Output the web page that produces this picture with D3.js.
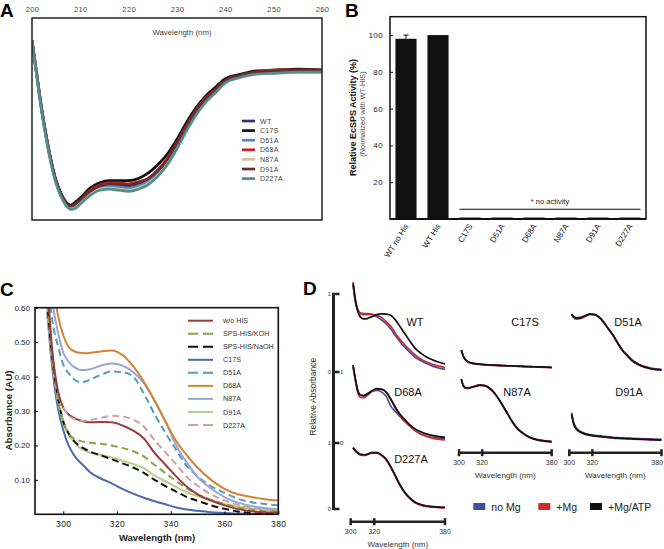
<!DOCTYPE html>
<html><head><meta charset="utf-8">
<script src="https://cdn.jsdelivr.net/npm/d3@7"></script>
<style>body{margin:0;background:#fff}svg{display:block}text{font-family:"Liberation Sans",Arial,sans-serif}</style>
</head><body><svg id="chart" width="664" height="549"></svg>
<script>
// ---------- Panel A: CD spectra ----------
const cdWavelengths = [200,201,202,203,204,205,206,207,208,209,210,212,214,216,218,220,222,224,226,228,230,232,234,236,238,240,243,246,250,255,260];
const cdWT   = [2.9,-0.4,-3.6,-6.3,-8.6,-10.4,-11.6,-12.4,-12.8,-12.6,-12.2,-11.4,-10.9,-10.7,-10.7,-10.8,-10.6,-10.2,-9.5,-8.4,-6.9,-5.2,-3.7,-2.6,-1.8,-0.9,-0.4,-0.1,0.0,0.1,0.1];
const cdC17S = [2.9,-0.3,-3.5,-6.2,-8.5,-10.3,-11.5,-12.3,-12.6,-12.3,-11.9,-11.0,-10.5,-10.3,-10.3,-10.3,-10.1,-9.6,-8.8,-7.8,-6.4,-4.8,-3.4,-2.3,-1.5,-0.7,-0.3,0.0,0.1,0.2,0.1];
const cdD51A = [2.9,-0.4,-3.7,-6.4,-8.7,-10.5,-11.7,-12.5,-12.9,-12.7,-12.3,-11.5,-11.0,-10.8,-10.9,-11.0,-10.8,-10.4,-9.7,-8.6,-7.1,-5.4,-3.9,-2.7,-1.9,-1.0,-0.5,-0.2,-0.1,0.0,0.0];
const cdD68A = [2.9,-0.4,-3.6,-6.3,-8.6,-10.4,-11.6,-12.4,-12.8,-12.5,-12.1,-11.2,-10.7,-10.5,-10.5,-10.6,-10.4,-10.1,-9.3,-8.2,-6.7,-5.1,-3.6,-2.5,-1.7,-0.9,-0.4,-0.1,0.1,0.1,0.1];
const cdN87A = [2.9,-0.5,-3.7,-6.4,-8.7,-10.5,-11.7,-12.5,-12.9,-12.8,-12.4,-11.6,-11.1,-11.0,-11.1,-11.2,-11.0,-10.6,-9.8,-8.7,-7.2,-5.5,-4.0,-2.8,-2.0,-1.1,-0.6,-0.3,-0.2,-0.1,-0.1];
const cdD91A = [2.9,-0.4,-3.6,-6.3,-8.6,-10.4,-11.6,-12.4,-12.7,-12.5,-12.1,-11.3,-10.8,-10.6,-10.6,-10.7,-10.5,-10.1,-9.4,-8.3,-6.8,-5.2,-3.7,-2.6,-1.8,-0.9,-0.4,-0.1,0.0,0.1,0.1];
const cdD227A= [2.9,-0.5,-3.8,-6.5,-8.8,-10.6,-11.8,-12.6,-13.0,-12.9,-12.5,-11.7,-11.2,-11.1,-11.2,-11.3,-11.1,-10.7,-9.9,-8.8,-7.3,-5.6,-4.1,-2.9,-2.0,-1.1,-0.6,-0.3,-0.2,-0.1,-0.1];
const cdNames = ["WT","C17S","D51A","D68A","N87A","D91A","D227A"];
const cdTicks = [200,210,220,230,240,250,260];

// ---------- Panel B: activity ----------
const actCategories = ["WT no His","WT His","C17S","D51A","D68A","N87A","D91A","D227A"];
const actValues = [98,100,0.8,0.8,0.8,0.8,0.8,0.8];
const actErrors = [2,0,0,0,0,0,0,0];
const actTicks = [20,40,60,80,100];
const noActivityLevel = 5.3;

// ---------- Panel C: absorbance ----------
const abWavelengths = [294,296,298,300,302,304,306,308,310,314,318,322,326,330,334,338,342,346,350,355,360,365,370,375,380];
const abWoHIS = [0.68,0.47,0.36,0.31,0.29,0.28,0.273,0.269,0.267,0.268,0.267,0.258,0.243,0.22,0.178,0.144,0.11,0.08,0.058,0.04,0.026,0.015,0.009,0.006,0.005];
const abKOH   = [0.64,0.46,0.34,0.27,0.235,0.22,0.214,0.21,0.208,0.205,0.2,0.193,0.183,0.168,0.143,0.12,0.097,0.075,0.058,0.042,0.03,0.02,0.013,0.009,0.008];
const abNaOH  = [0.62,0.45,0.34,0.27,0.235,0.213,0.199,0.19,0.182,0.171,0.16,0.148,0.136,0.12,0.1,0.082,0.066,0.05,0.039,0.026,0.016,0.008,0.004,0.002,0.001];
const abC17S  = [0.59,0.42,0.31,0.245,0.2,0.172,0.153,0.138,0.122,0.104,0.09,0.074,0.06,0.048,0.038,0.029,0.02,0.014,0.01,0.006,0.004,0.002,0.001,0.001,0.0];
const abD51A  = [0.7,0.56,0.49,0.435,0.41,0.392,0.384,0.385,0.391,0.405,0.415,0.413,0.4,0.35,0.29,0.237,0.187,0.14,0.11,0.082,0.062,0.045,0.035,0.03,0.026];
const abD68A  = [0.85,0.68,0.58,0.52,0.486,0.474,0.469,0.468,0.469,0.473,0.476,0.463,0.43,0.385,0.33,0.27,0.213,0.171,0.135,0.1,0.074,0.058,0.05,0.044,0.04];
const abN87A  = [0.8,0.62,0.53,0.47,0.443,0.428,0.42,0.419,0.421,0.432,0.438,0.432,0.413,0.38,0.33,0.27,0.2,0.15,0.108,0.075,0.05,0.034,0.024,0.018,0.014];
const abD91A  = [0.6,0.44,0.33,0.265,0.232,0.21,0.194,0.185,0.179,0.172,0.165,0.156,0.146,0.134,0.112,0.096,0.079,0.064,0.052,0.04,0.03,0.022,0.017,0.014,0.012];
const abD227A = [null,null,null,0.31,0.287,0.277,0.272,0.272,0.274,0.28,0.286,0.284,0.275,0.255,0.215,0.18,0.145,0.108,0.083,0.058,0.04,0.028,0.02,0.015,0.012];
const abNames = ["w/o HIS","SPS-HIS/KOH","SPS-HIS/NaOH","C17S","D51A","D68A","N87A","D91A","D227A"];
const abXTicks = [300,320,340,360,380];
const abYTicks = [0.1,0.2,0.3,0.4,0.5,0.6];

// ---------- Panel D: relative absorbance ----------
const rWavelengths = [302,304,306,308,311,314,318,322,326,330,334,338,342,346,350,355,360,365,370,375,380];
const rWT_noMg  = [1.12,0.9,0.8,0.76,0.75,0.748,0.74,0.71,0.67,0.62,0.55,0.465,0.385,0.315,0.255,0.185,0.14,0.105,0.072,0.05,0.033];
const rWT_Mg    = [1.12,0.9,0.79,0.75,0.735,0.738,0.74,0.728,0.7,0.65,0.585,0.495,0.415,0.345,0.285,0.215,0.16,0.125,0.095,0.075,0.058];
const rWT_ATP   = [1.15,0.93,0.78,0.71,0.68,0.685,0.71,0.735,0.744,0.742,0.728,0.665,0.58,0.49,0.4,0.3,0.235,0.185,0.152,0.125,0.105];
const rC17S_noMg= [0.28,0.195,0.151,0.129,0.114,0.106,0.099,0.094,0.09,0.087,0.084,0.082,0.079,0.077,0.075,0.072,0.069,0.066,0.064,0.061,0.059];
const rC17S_Mg  = [0.28,0.192,0.148,0.126,0.111,0.103,0.097,0.092,0.088,0.085,0.082,0.08,0.077,0.075,0.073,0.07,0.067,0.064,0.062,0.059,0.057];
const rC17S_ATP = [0.28,0.195,0.152,0.13,0.115,0.107,0.1,0.095,0.091,0.088,0.085,0.083,0.08,0.078,0.076,0.073,0.07,0.067,0.065,0.062,0.06];
const rD51A_noMg= [0.745,0.712,0.698,0.697,0.706,0.725,0.745,0.738,0.703,0.638,0.554,0.474,0.375,0.286,0.222,0.148,0.103,0.073,0.053,0.041,0.034];
const rD51A_Mg  = [0.73,0.695,0.678,0.68,0.693,0.715,0.74,0.733,0.698,0.633,0.548,0.468,0.368,0.278,0.213,0.138,0.093,0.063,0.043,0.031,0.024];
const rD51A_ATP = [0.74,0.705,0.69,0.69,0.7,0.72,0.742,0.735,0.7,0.635,0.55,0.47,0.37,0.28,0.215,0.14,0.095,0.065,0.045,0.033,0.026];
const rD68A_noMg= [1.08,0.89,0.74,0.68,0.672,0.695,0.73,0.74,0.72,0.66,0.52,0.44,0.37,0.3,0.24,0.17,0.125,0.095,0.077,0.067,0.06];
const rD68A_Mg  = [1.08,0.88,0.71,0.645,0.638,0.67,0.725,0.76,0.755,0.715,0.61,0.49,0.385,0.305,0.24,0.17,0.12,0.09,0.066,0.052,0.042];
const rD68A_ATP = [1.1,0.9,0.74,0.675,0.665,0.69,0.735,0.765,0.758,0.72,0.62,0.5,0.4,0.325,0.26,0.195,0.155,0.125,0.105,0.09,0.078];
const rN87A_noMg= [0.903,0.803,0.778,0.778,0.788,0.803,0.818,0.811,0.778,0.718,0.628,0.523,0.413,0.303,0.213,0.143,0.091,0.058,0.04,0.029,0.021];
const rN87A_Mg  = [0.89,0.792,0.768,0.77,0.781,0.797,0.812,0.806,0.772,0.712,0.622,0.517,0.407,0.297,0.207,0.137,0.085,0.052,0.034,0.023,0.015];
const rN87A_ATP = [0.9,0.8,0.775,0.775,0.785,0.8,0.815,0.808,0.775,0.715,0.625,0.52,0.41,0.3,0.21,0.14,0.088,0.055,0.037,0.026,0.018];
const rD91A_noMg= [0.43,0.28,0.215,0.182,0.153,0.134,0.118,0.108,0.1,0.093,0.086,0.08,0.076,0.073,0.07,0.066,0.063,0.06,0.057,0.054,0.051];
const rD91A_Mg  = [0.4,0.257,0.197,0.167,0.14,0.122,0.107,0.097,0.089,0.082,0.075,0.069,0.065,0.062,0.059,0.055,0.052,0.049,0.045,0.042,0.039];
const rD91A_ATP = [0.4,0.26,0.2,0.17,0.143,0.125,0.11,0.1,0.092,0.085,0.078,0.072,0.068,0.065,0.062,0.058,0.055,0.052,0.048,0.045,0.042];
const rD227A_noMg=[0.93,0.885,0.85,0.828,0.82,0.828,0.853,0.853,0.818,0.752,0.637,0.497,0.357,0.247,0.167,0.097,0.062,0.043,0.033,0.027,0.023];
const rD227A_Mg = [0.92,0.875,0.842,0.82,0.812,0.822,0.848,0.85,0.815,0.75,0.632,0.49,0.35,0.24,0.16,0.09,0.055,0.036,0.027,0.021,0.017];
const rD227A_ATP= [0.93,0.885,0.852,0.83,0.822,0.83,0.855,0.855,0.82,0.755,0.64,0.5,0.36,0.25,0.17,0.1,0.065,0.045,0.035,0.028,0.024];
const rConditions = ["no Mg","+Mg","+Mg/ATP"];
const rXTicks = [300,320,380];

// ================= drawing =================
const svg = d3.select("#chart");

function panelLetter(t, x, y) {
  svg.append("text").attr("x", x).attr("y", y).attr("font-size", 19).attr("font-weight", "bold").attr("fill", "#000").text(t);
}

// ----- A -----
(function () {
  const series = [cdWT, cdC17S, cdD51A, cdD68A, cdN87A, cdD91A, cdD227A];
  const colors = ["#2e3470", "#111111", "#5b86c5", "#c8232a", "#cdc5a5", "#6e2b2b", "#4f8f8c"];
  const L = 32, T = 18, R = 322, B = 220;
  const x = d3.scaleLinear().domain([200, 260]).range([L, R]);
  const y = d3.scaleLinear().domain([-14, 5]).range([B, T]);
  const g = svg.append("g");
  g.append("clipPath").attr("id", "clipA").append("rect").attr("x", L).attr("y", T).attr("width", R - L).attr("height", B - T);
  const line = d3.line().x((d, i) => x(cdWavelengths[i])).y(d => y(d)).curve(d3.curveMonotoneX);
  series.forEach((s, k) => g.append("path").attr("d", line(s)).attr("fill", "none")
    .attr("stroke", colors[k]).attr("stroke-width", 2.7).attr("clip-path", "url(#clipA)"));
  g.append("rect").attr("x", L).attr("y", T).attr("width", R - L).attr("height", B - T)
    .attr("fill", "none").attr("stroke", "#222").attr("stroke-width", 1.5);
  const ax = g.append("g").attr("transform", `translate(0,${T})`)
    .call(d3.axisTop(x).tickValues(cdTicks).tickSize(0).tickPadding(6.5));
  ax.select(".domain").remove();
  ax.selectAll("text").attr("font-size", 7.5).attr("fill", "#444").attr("font-family", '"Liberation Sans", Arial, sans-serif').attr("letter-spacing", 0.4);
  g.append("text").attr("x", 182).attr("y", 35).attr("text-anchor", "middle").attr("font-size", 7.8).attr("fill", "#444").text("Wavelength (nm)");
  cdNames.forEach((n, k) => {
    const yy = 121 + k * 9.6;
    g.append("line").attr("x1", 242).attr("x2", 255).attr("y1", yy).attr("y2", yy).attr("stroke", colors[k]).attr("stroke-width", 2.7);
    g.append("text").attr("x", 260).attr("y", yy + 2.5).attr("font-size", 7).attr("fill", "#444").attr("letter-spacing", 0.3).text(n);
  });
  panelLetter("A", 0, 17);
})();

// ----- B -----
(function () {
  const L = 390, T = 16.7, R = 646, B = 219;
  const x = d3.scaleBand().domain(actCategories).range([L, R]).paddingInner(0.34).paddingOuter(0.17);
  const y = d3.scaleLinear().domain([0, 110]).range([B, T]);
  const g = svg.append("g");
  g.selectAll("rect.bar").data(actValues).enter().append("rect")
    .attr("x", (d, i) => x(actCategories[i])).attr("width", x.bandwidth())
    .attr("y", d => y(d)).attr("height", d => B - y(d)).attr("fill", "#111");
  actErrors.forEach((e, i) => {
    if (!e) return;
    const cx = x(actCategories[i]) + x.bandwidth() / 2;
    g.append("line").attr("x1", cx).attr("x2", cx).attr("y1", y(actValues[i])).attr("y2", y(actValues[i] + e)).attr("stroke", "#111").attr("stroke-width", 1);
    g.append("line").attr("x1", cx - 2.5).attr("x2", cx + 2.5).attr("y1", y(actValues[i] + e)).attr("y2", y(actValues[i] + e)).attr("stroke", "#111").attr("stroke-width", 1);
  });
  g.append("rect").attr("x", L).attr("y", T).attr("width", R - L).attr("height", B - T)
    .attr("fill", "none").attr("stroke", "#111").attr("stroke-width", 1.5);
  g.append("line").attr("x1", L).attr("x2", R).attr("y1", B).attr("y2", B).attr("stroke", "#111").attr("stroke-width", 2);
  const ay = g.append("g").attr("transform", `translate(${L},0)`)
    .call(d3.axisLeft(y).tickValues(actTicks).tickSizeInner(-3).tickSizeOuter(0).tickPadding(7));
  ay.select(".domain").remove();
  ay.selectAll("line").attr("stroke", "#111");
  ay.selectAll("text").attr("font-size", 8).attr("fill", "#222").attr("letter-spacing", 0.4).attr("font-family", '"Liberation Sans", Arial, sans-serif');
  const x0 = x(actCategories[2]), x1 = x(actCategories[7]) + x.bandwidth();
  g.append("line").attr("x1", x0).attr("x2", x1).attr("y1", y(noActivityLevel)).attr("y2", y(noActivityLevel)).attr("stroke", "#111").attr("stroke-width", 1.2);
  g.append("text").attr("x", (x0 + x1) / 2).attr("y", y(noActivityLevel) - 5).attr("text-anchor", "middle").attr("font-size", 7.5).attr("fill", "#222").text("* no activity");
  actCategories.forEach(c => {
    const cx = x(c) + x.bandwidth() / 2 + 3;
    g.append("text").attr("transform", `translate(${cx},226) rotate(-58)`).attr("text-anchor", "end")
      .attr("font-size", 8.2).attr("fill", "#222").text(c);
  });
  g.append("text").attr("transform", "translate(356,117.5) rotate(-90)").attr("text-anchor", "middle")
    .attr("font-size", 9).attr("font-weight", "bold").attr("fill", "#111").text("Relative EcSPS Activity (%)");
  g.append("text").attr("transform", "translate(365,114) rotate(-90)").attr("text-anchor", "middle")
    .attr("font-size", 7.4).attr("fill", "#555").text("(Normalized with WT-HIS)");
  panelLetter("B", 345, 17);
})();

// ----- C -----
(function () {
  const series = [abWoHIS, abKOH, abNaOH, abC17S, abD51A, abD68A, abN87A, abD91A, abD227A];
  const colors = ["#9e3a3e", "#8aa446", "#111111", "#4a6aab", "#5b9bb4", "#d5832f", "#98a7d8", "#b5cc8e", "#d39ea0"];
  const dashed = [false, true, true, false, true, false, false, false, true];
  const L = 35, T = 307.7, R = 278.3, B = 514.3;
  const x = d3.scaleLinear().domain([289.5, 380]).range([L, R]);
  const y = d3.scaleLinear().domain([0, 0.6]).range([B, T]);
  const g = svg.append("g");
  g.append("clipPath").attr("id", "clipC").append("rect").attr("x", L).attr("y", T).attr("width", R - L).attr("height", B - T);
  const line = d3.line().defined(d => d !== null).x((d, i) => x(abWavelengths[i])).y(d => y(d)).curve(d3.curveMonotoneX);
  const order = [3, 7, 2, 1, 0, 8, 4, 6, 5];
  order.forEach(k => {
    g.append("path").attr("d", line(series[k])).attr("fill", "none").attr("stroke", colors[k])
      .attr("stroke-width", 2).attr("stroke-dasharray", dashed[k] ? "7,4" : null).attr("clip-path", "url(#clipC)");
  });
  g.append("rect").attr("x", L).attr("y", T).attr("width", R - L).attr("height", B - T)
    .attr("fill", "none").attr("stroke", "#111").attr("stroke-width", 1.6);
  const ax = g.append("g").attr("transform", `translate(0,${B})`)
    .call(d3.axisBottom(x).tickValues(abXTicks).tickSizeInner(-3).tickSizeOuter(0).tickPadding(7));
  ax.select(".domain").remove();
  ax.selectAll("text").attr("font-size", 8.5).attr("fill", "#222").attr("letter-spacing", 0.4).attr("font-family", '"Liberation Sans", Arial, sans-serif');
  const ay = g.append("g").attr("transform", `translate(${L},0)`)
    .call(d3.axisLeft(y).tickValues(abYTicks).tickSizeInner(-3).tickSizeOuter(0).tickPadding(5));
  ay.select(".domain").remove();
  ay.selectAll("text").attr("font-size", 8).attr("fill", "#222").attr("font-family", '"Liberation Sans", Arial, sans-serif');
  g.append("text").attr("x", 157).attr("y", 541).attr("text-anchor", "middle").attr("font-size", 9.5).attr("font-weight", "bold").attr("fill", "#222").text("Wavelength (nm)");
  g.append("text").attr("transform", "translate(12,410.5) rotate(-90)").attr("text-anchor", "middle").attr("font-size", 9.8).attr("font-weight", "bold").attr("fill", "#222").text("Absorbance (AU)");
  abNames.forEach((n, k) => {
    const yy = 320.7 + k * 13.03;
    g.append("line").attr("x1", 188).attr("x2", 213).attr("y1", yy).attr("y2", yy).attr("stroke", colors[k])
      .attr("stroke-width", 2).attr("stroke-dasharray", dashed[k] ? "10,5" : null);
    g.append("text").attr("x", 223).attr("y", yy + 2.6).attr("font-size", 7.2).attr("fill", "#333").text(n);
  });
  panelLetter("C", 0, 296);
})();

// ----- D -----
(function () {
  const condColors = ["#3d4fa3", "#d42a2a", "#111111"];
  const panels = [
    { name: "WT", col: 0, row: 0, lx: 415, ly: 326, data: [rWT_noMg, rWT_Mg, rWT_ATP] },
    { name: "C17S", col: 1, row: 0, lx: 525, ly: 326, data: [rC17S_noMg, rC17S_Mg, rC17S_ATP] },
    { name: "D51A", col: 2, row: 0, lx: 628, ly: 326, data: [rD51A_noMg, rD51A_Mg, rD51A_ATP] },
    { name: "D68A", col: 0, row: 1, lx: 408, ly: 396, data: [rD68A_noMg, rD68A_Mg, rD68A_ATP] },
    { name: "N87A", col: 1, row: 1, lx: 517, ly: 396, data: [rN87A_noMg, rN87A_Mg, rN87A_ATP] },
    { name: "D91A", col: 2, row: 1, lx: 629, ly: 396, data: [rD91A_noMg, rD91A_Mg, rD91A_ATP] },
    { name: "D227A", col: 0, row: 2, lx: 411, ly: 462.5, data: [rD227A_noMg, rD227A_Mg, rD227A_ATP] }
  ];
  const colRanges = [[350.7, 445], [459, 551.7], [569.3, 661.5]];
  const rowRanges = [[372, 294], [443, 372], [509, 443]];
  const g = svg.append("g");
  panels.forEach(p => {
    const x = d3.scaleLinear().domain([300, 380]).range(colRanges[p.col]);
    const y = d3.scaleLinear().domain([0, 1]).range(rowRanges[p.row]);
    const line = d3.line().x((d, i) => x(rWavelengths[i])).y(d => y(d)).curve(d3.curveMonotoneX);
    p.data.forEach((s, k) => g.append("path").attr("d", line(s)).attr("fill", "none")
      .attr("stroke", condColors[k]).attr("stroke-width", 1.7));
    g.append("text").attr("x", p.lx).attr("y", p.ly).attr("text-anchor", "middle").attr("font-size", 11).attr("fill", "#111").text(p.name);
  });
  const barX = 333.5;
  g.append("line").attr("x1", barX).attr("x2", barX).attr("y1", 294).attr("y2", 509).attr("stroke", "#222").attr("stroke-width", 3);
  [294, 372, 443, 509].forEach(yy => g.append("line").attr("x1", barX - 1.5).attr("x2", barX + 6).attr("y1", yy).attr("y2", yy).attr("stroke", "#222").attr("stroke-width", 2.5));
  const leftLabels = [["1", 294], ["0", 372], ["1", 443], ["0", 509]];
  leftLabels.forEach(([t, yy]) => g.append("text").attr("x", 331).attr("y", yy + 2).attr("text-anchor", "end").attr("font-size", 6).attr("fill", "#333").text(t));
  const rightLabels = [["1", 372], ["0", 443]];
  rightLabels.forEach(([t, yy]) => g.append("text").attr("x", 340).attr("y", yy + 2).attr("font-size", 6).attr("fill", "#333").text(t));
  g.append("text").attr("transform", "translate(316,396.7) rotate(-90)").attr("text-anchor", "middle").attr("font-size", 8.5).attr("fill", "#333").text("Relative Absorbance");
  const xBars = [{ col: 0, y: 521.7 }, { col: 1, y: 452.7 }, { col: 2, y: 452.7 }];
  xBars.forEach(b => {
    const x = d3.scaleLinear().domain([300, 380]).range(colRanges[b.col]);
    g.append("line").attr("x1", x(300)).attr("x2", x(380)).attr("y1", b.y).attr("y2", b.y).attr("stroke", "#222").attr("stroke-width", 2.5);
    rXTicks.forEach((t, i) => {
      g.append("line").attr("x1", x(t)).attr("x2", x(t)).attr("y1", b.y - 3.5).attr("y2", b.y + 3.5).attr("stroke", "#222").attr("stroke-width", 2.5);
      const edge = b.col === 2 && i === rXTicks.length - 1;
      g.append("text").attr("x", edge ? 663 : x(t)).attr("y", b.y + 12).attr("text-anchor", edge ? "end" : "middle").attr("font-size", 7).attr("fill", "#333").text(t);
    });
    g.append("text").attr("x", (x(300) + x(380)) / 2).attr("y", b.y + 25).attr("text-anchor", "middle").attr("font-size", 8).attr("fill", "#333").text("Wavelength (nm)");
  });
  const legX = [473.3, 538.3, 590];
  rConditions.forEach((c, k) => {
    g.append("rect").attr("x", legX[k]).attr("y", 503).attr("width", 12).attr("height", 7).attr("fill", condColors[k]);
    g.append("text").attr("x", legX[k] + 18).attr("y", 510.5).attr("font-size", 10.5).attr("fill", "#222").text(c);
  });
  panelLetter("D", 303, 295);
})();
</script></body></html>
